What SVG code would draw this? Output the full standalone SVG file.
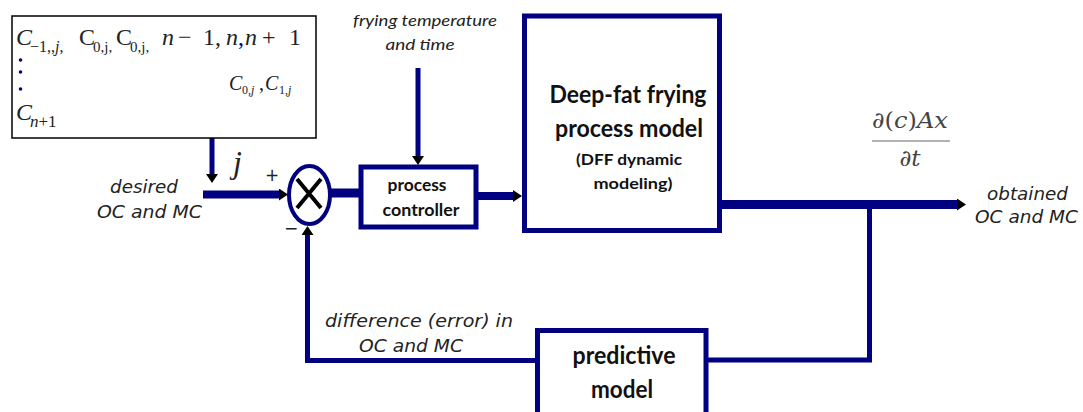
<svg xmlns="http://www.w3.org/2000/svg" width="1083" height="412" viewBox="0 0 1083 412">
<defs>
<style>
.blk{fill:#fff;stroke:#000080;stroke-width:5}
.ln{fill:none;stroke:#000080}
.lbl{font-family:"DejaVu Sans",Verdana,sans-serif;font-style:italic;font-size:18px;fill:#222}
.bt{font-family:Lato,"Liberation Sans",sans-serif;font-weight:bold;fill:#111;text-anchor:middle}
.it{font-family:Lato,"Liberation Sans",sans-serif;font-style:italic;font-size:15px;fill:#222;text-anchor:middle}
.m{font-family:"Liberation Serif","DejaVu Serif",serif;fill:#222}
.g{font-family:"DejaVu Serif","Liberation Serif",serif;fill:#444}
</style>
<marker id="ah" markerUnits="userSpaceOnUse" markerWidth="9" markerHeight="12" viewBox="0 0 9 12" refX="0" refY="6" orient="auto">
<path d="M0,0 L9,6 L0,12 z" fill="#000"/>
</marker>
</defs>
<rect width="1083" height="412" fill="#fff"/>

<g id="connectors">
<path class="ln" d="M212 138 V174" stroke-width="5" marker-end="url(#ah)"/>
<path class="ln" d="M418 68 V156" stroke-width="5" marker-end="url(#ah)"/>
<path class="ln" d="M203 194.5 H279" stroke-width="8" marker-end="url(#ah)"/>
<path class="ln" d="M331 193 H361" stroke-width="9"/>
<path class="ln" d="M476 196 H513" stroke-width="8" marker-end="url(#ah)"/>
<path class="ln" d="M719.5 204.5 H957" stroke-width="9" marker-end="url(#ah)"/>
<path class="ln" d="M706 360 H869.5 V204.5" stroke-width="5"/>
<path class="ln" d="M537.5 360.5 H307.5 V235" stroke-width="5" marker-end="url(#ah)"/>
</g>

<g id="setpoint-box">
<rect x="12" y="16" width="304" height="122" fill="#fff" stroke="#000" stroke-width="1.5"/>
<text class="m" font-size="24" y="45">
<tspan x="16" font-style="italic">C</tspan><tspan x="30" y="52" font-size="16">−1,,<tspan font-style="italic">j</tspan>,</tspan><tspan x="79" y="45">C</tspan><tspan x="93" y="52" font-size="15">0,j,</tspan><tspan x="116" y="45">C</tspan><tspan x="130" y="52" font-size="15">0,j,</tspan><tspan x="162" y="45" font-style="italic">n</tspan><tspan x="178">−</tspan><tspan x="203">1,</tspan><tspan x="226" font-style="italic">n</tspan><tspan x="238" fill="#000080">,</tspan><tspan x="245" font-style="italic">n</tspan><tspan x="262">+</tspan><tspan x="289">1</tspan>
</text>
<text class="m" font-size="20" y="90" fill="#444">
<tspan x="229" font-style="italic">C</tspan><tspan x="242" y="94" font-size="12">0,<tspan font-style="italic">j</tspan></tspan><tspan x="259" y="90">,</tspan><tspan x="265" font-style="italic">C</tspan><tspan x="279" y="94" font-size="12">1,<tspan font-style="italic">j</tspan></tspan>
</text>
<circle cx="20.5" cy="60" r="1.8" fill="#000080"/>
<circle cx="20.5" cy="72" r="1.8" fill="#000080"/>
<circle cx="20.5" cy="89" r="1.8" fill="#000080"/>
<text class="m" font-size="24" y="120"><tspan x="16" font-style="italic">C</tspan><tspan x="30" y="127" font-size="17"><tspan font-style="italic">n</tspan>+1</tspan></text>
</g>

<g id="labels">
<text class="m" x="233" y="173" font-size="32" font-style="italic" fill="#666">j</text>
<text class="lbl" x="110" y="193" textLength="68" lengthAdjust="spacingAndGlyphs">desired</text>
<text class="lbl" x="97" y="218" textLength="105" lengthAdjust="spacingAndGlyphs">OC and MC</text>
<text class="lbl" x="987" y="200" textLength="81" lengthAdjust="spacingAndGlyphs">obtained</text>
<text class="lbl" x="975" y="223" textLength="103" lengthAdjust="spacingAndGlyphs">OC and MC</text>
<text class="lbl" x="325" y="327" textLength="188" lengthAdjust="spacingAndGlyphs">difference (error) in</text>
<text class="lbl" x="359" y="352" textLength="104" lengthAdjust="spacingAndGlyphs">OC and MC</text>
<text class="it" x="425" y="26" textLength="144" lengthAdjust="spacingAndGlyphs">frying temperature</text>
<text class="it" x="420" y="50" textLength="69" lengthAdjust="spacingAndGlyphs">and time</text>
<text x="272" y="181" font-family="'DejaVu Sans',sans-serif" font-size="17" fill="#222" text-anchor="middle">+</text>
<text x="291" y="234" font-family="'DejaVu Sans',sans-serif" font-size="17" fill="#222" text-anchor="middle">−</text>
<text class="g" x="910" y="128" font-size="23" text-anchor="middle" textLength="76" lengthAdjust="spacingAndGlyphs">∂(<tspan font-style="italic">c</tspan>)<tspan font-style="italic">Ax</tspan></text>
<line x1="872" y1="141" x2="950" y2="141" stroke="#999" stroke-width="1.5"/>
<text class="g" x="910" y="166" font-size="23" text-anchor="middle">∂<tspan font-style="italic">t</tspan></text>
</g>

<g id="sum-junction">
<ellipse cx="309.5" cy="195" rx="20.5" ry="29" fill="#fff" stroke="#000080" stroke-width="4"/>
<path d="M297 179 L321 208 M321 179 L297 208" stroke="#000" stroke-width="4" fill="none"/>
</g>

<g id="process-controller">
<rect class="blk" x="361" y="167" width="115" height="60"/>
<text class="bt" x="417" y="191" font-size="17" textLength="59" lengthAdjust="spacingAndGlyphs">process</text>
<text class="bt" x="421" y="216" font-size="17" textLength="77" lengthAdjust="spacingAndGlyphs">controller</text>
</g>

<g id="dff-model">
<rect class="blk" x="524.5" y="16" width="195" height="214.5"/>
<text class="bt" x="628" y="103" font-size="24" textLength="157" lengthAdjust="spacingAndGlyphs">Deep-fat frying</text>
<text class="bt" x="629" y="137" font-size="24" textLength="148" lengthAdjust="spacingAndGlyphs">process model</text>
<text class="bt" x="629" y="165" font-size="16" textLength="106" lengthAdjust="spacingAndGlyphs">(DFF  dynamic</text>
<text class="bt" x="633" y="189" font-size="16" textLength="79" lengthAdjust="spacingAndGlyphs">modeling)</text>
</g>

<g id="predictive-model">
<rect class="blk" x="537.5" y="330.5" width="168.5" height="100"/>
<text class="bt" x="624" y="364" font-size="24" textLength="103" lengthAdjust="spacingAndGlyphs">predictive</text>
<text class="bt" x="622" y="398" font-size="24" textLength="62" lengthAdjust="spacingAndGlyphs">model</text>
</g>
</svg>
